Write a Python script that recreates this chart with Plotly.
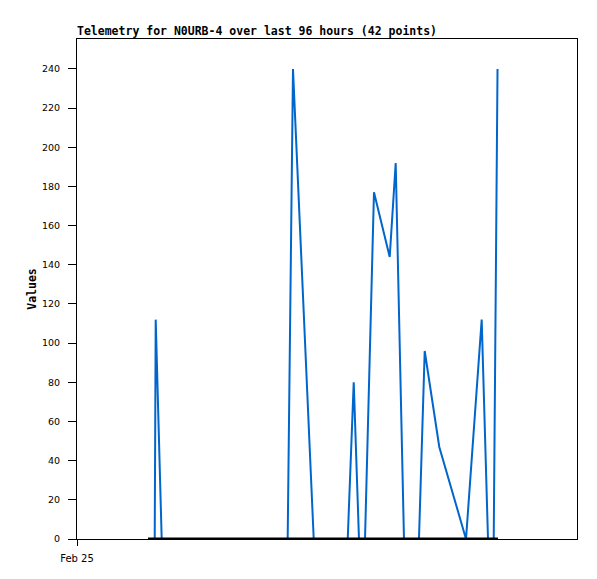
import pandas as pd
import plotly.graph_objects as go

# hours after Feb 25 00:00 and the values
hours = [14.92, 15.11, 16.26, 40.45, 41.47, 45.45, 51.98, 53.13, 54.14, 55.30, 57.02,
         60.04, 61.19, 62.78, 65.66, 66.76, 69.56, 74.69, 77.70, 78.91, 80.01, 80.74]
values = [0, 112, 0, 0, 240, 0, 0, 80, 0, 0, 177, 144, 192, 0, 0, 96, 47, 0, 112, 0, 0, 240]

# flat zero channel
zero_hours = [13.63, 80.83]
zero_values = [0, 0]

start = pd.Timestamp("2024-02-25 00:00")
x_blue = [start + pd.Timedelta(hours=h) for h in hours]
x_zero = [start + pd.Timedelta(hours=h) for h in zero_hours]

fig = go.Figure()
fig.add_trace(go.Scatter(x=x_blue, y=values, mode="lines",
                         line=dict(color="#0066cc", width=2), showlegend=False))
fig.add_trace(go.Scatter(x=x_zero, y=zero_values, mode="lines",
                         line=dict(color="black", width=3), showlegend=False))

# page body adds an 8px margin, so the figure is 8px smaller and shifted
W, H = 589, 571
mono = "DejaVu Sans Mono"
fig.update_layout(
    width=W, height=H,
    margin=dict(l=69, r=20, t=31, b=40),
    plot_bgcolor="white", paper_bgcolor="white",
    title=dict(text="<b>Telemetry for N0URB-4 over last 96 hours (42 points)</b>",
               x=69 / W, xanchor="left", xref="container",
               y=1 - 23 / H, yanchor="middle", yref="container",
               font=dict(family=mono, size=11.5, color="black")),
    xaxis=dict(range=[start, start + pd.Timedelta(hours=96)],
               tickvals=[start], ticktext=["Feb 25"],
               showline=True, mirror=True, linecolor="black", linewidth=1,
               ticks="outside", ticklen=6, tickcolor="black", ticklabelstandoff=4,
               showgrid=False, zeroline=False,
               tickfont=dict(family="DejaVu Sans", size=10, color="black")),
    yaxis=dict(range=[0, 255.3], tickvals=list(range(0, 241, 20)),
               showline=True, mirror=True, linecolor="black", linewidth=1,
               ticks="outside", ticklen=8, tickcolor="black", ticklabelstandoff=6,
               showgrid=False, zeroline=False,
               tickfont=dict(family="DejaVu Sans", size=9.5, color="black"),
               title=dict(text="<b>Values</b>", standoff=2,
                          font=dict(family=mono, size=11.5, color="black"))),
)

fig.write_html("out.html")
